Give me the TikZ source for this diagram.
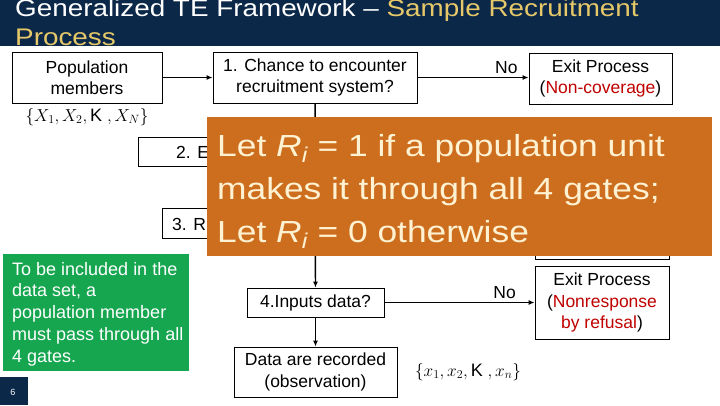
\documentclass[tikz,border=0pt]{standalone}
\usepackage{fontspec}
\setmainfont{Liberation Sans}
\newfontfamily\widesans[FakeStretch=1.16,Ligatures=TeX]{Liberation Sans}
\usetikzlibrary{arrows.meta}
\definecolor{titlebar}{RGB}{12,40,72}
\definecolor{titlegold}{RGB}{230,200,105}
\definecolor{exitred}{RGB}{192,0,0}
\definecolor{noteorange}{RGB}{204,110,30}
\definecolor{notegreen}{RGB}{22,166,80}
\definecolor{notecream}{RGB}{255,242,210}
\begin{document}
\begin{tikzpicture}[x=1pt,y=-1pt,
    gate/.style={draw,line width=0.8pt,fill=white,align=center,inner sep=0pt,font=\fontsize{17.5}{21.5}\selectfont},
    arr/.style={line width=1.4pt,-{Latex[length=6pt,width=5pt]}},
    line/.style={anchor=base west,inner sep=0pt}]
  \useasboundingbox (0,0) rectangle (720,405);
  \fill[titlebar] (0,0) rectangle (720,46);
  \node[line,white,font=\widesans\fontsize{24}{29}\selectfont] (title1) at (15,16) {Generalized TE Framework – \textcolor{titlegold}{Sample Recruitment}};
  \node[line,titlegold,font=\widesans\fontsize{24}{29}\selectfont] (title2) at (15,45) {Process};

  \node[gate,minimum width=150,minimum height=51] (pop) at (87,77.5) {Population\\members};
  \node[font=\fontsize{18}{20}\selectfont] (popset) at (87,117) {$\{X_1,X_2,\mbox{K}\;,X_N\}$};
  \node[gate,minimum width=204,minimum height=51] (gate1) at (315,77.5) {1. Chance to encounter\\recruitment system?};
  \node[gate,minimum width=143,minimum height=51] (exit1) at (600.5,78.5) {Exit Process\\(\textcolor{exitred}{Non-coverage})};
  \node[gate,minimum width=356,minimum height=29] (gate2) at (316,151.5) {};
  \node[line,font=\fontsize{17.5}{21}\selectfont] (gate2txt) at (176,158.5) {2. E};
  \node[gate,minimum width=308,minimum height=30] (gate3) at (316,223) {};
  \node[line,font=\fontsize{17.5}{21}\selectfont] (gate3txt) at (172,230) {3. R};
  \node[gate,minimum width=134,minimum height=50] (exit3) at (602,234) {};
  \node[gate,minimum width=137,minimum height=29] (gate4) at (315.5,302.5) {4.Inputs data?};
  \node[gate,minimum width=134,minimum height=73] (exit4) at (602,302.5) {Exit Process\\(\textcolor{exitred}{Nonresponse}\\\textcolor{exitred}{by refusal})};
  \node[gate,minimum width=163,minimum height=50] (data) at (315.5,372) {Data are recorded\\(observation)};
  \node[font=\fontsize{18}{20}\selectfont] (dataset) at (468,372) {$\{x_1,x_2,\mbox{K}\;,x_n\}$};

  \draw[arr] (pop) -- (gate1);
  \draw[arr] (gate1.east) -- node[pos=0.8,above,font=\fontsize{17.5}{20}\selectfont] (no1) {No} (gate1.east -| exit1.west);
  \draw[arr] (gate1) -- (gate4);
  \draw[arr] (gate4) -- (data);
  \draw[arr] (gate4) -- node[pos=0.8,above,font=\fontsize{17.5}{20}\selectfont] (no4) {No} (exit4);

  \fill[noteorange] (207,117) rectangle (712,256);
  \foreach \t [count=\i] in {Let \textit{R\textsubscript{i}} = 1 if a population unit,
      makes it through all 4 gates;,Let \textit{R\textsubscript{i}} = 0 otherwise}
    \node[line,notecream,font=\widesans\fontsize{30.5}{36}\selectfont] (note\i) at (217,113+43*\i) {\t};

  \fill[notegreen] (3,254) rectangle (189,371);
  \foreach \t [count=\i] in {To be included in the,{data set, a},population member,must pass through all,4 gates.}
    \node[line,white,font=\fontsize{18}{20}\selectfont] (green\i) at (12,253.5+21.7*\i) {\t};

  \fill[titlebar] (0,377) rectangle (28,405);
  \node[white,font=\fontsize{9}{10}\selectfont] (page) at (13,392) {6};
\end{tikzpicture}
\end{document}
